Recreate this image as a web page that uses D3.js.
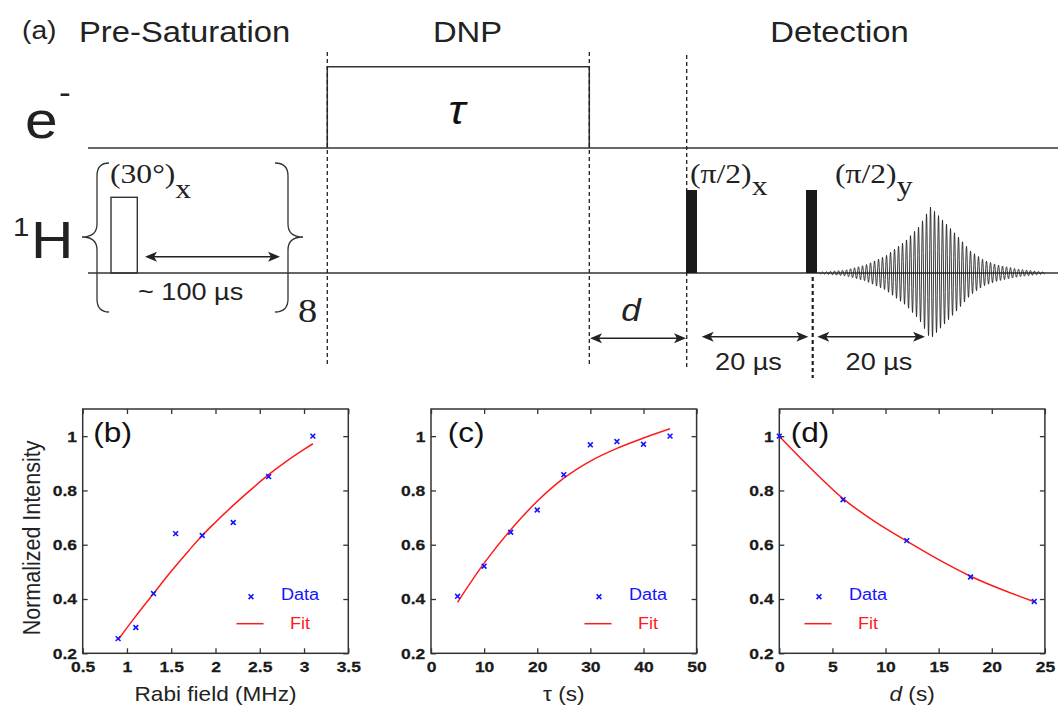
<!DOCTYPE html>
<html>
<head>
<meta charset="utf-8">
<script src="https://cdn.jsdelivr.net/npm/d3@7"></script>
<style>
  html, body { margin: 0; padding: 0; background: #fff; }
  svg { display: block; }
  .ticklab { font-family: 'Liberation Sans', Arial, Helvetica, sans-serif; font-weight: 700; }
</style>
</head>
<body>
<svg id="chart" width="1061" height="710"></svg>
<script>
// ---------------- DATA ----------------
// (b) Rabi field dependence
const rabiField = [0.9, 1.1, 1.3, 1.55, 1.85, 2.2, 2.6, 3.1];
const rabiIntensity = [0.254, 0.295, 0.42, 0.641, 0.634, 0.682, 0.851, 1.0];
const rabiFitX = [0.9, 1.1, 1.3, 1.5, 1.7, 1.85, 2.0, 2.2, 2.4, 2.6, 2.8, 3.0, 3.1];
const rabiFitY = [0.25, 0.337, 0.42, 0.502, 0.579, 0.634, 0.683, 0.745, 0.803, 0.858, 0.907, 0.951, 0.972];
const rabiTicksX = [0.5, 1, 1.5, 2, 2.5, 3, 3.5];

// (c) DNP time dependence
const tauValues = [5, 10, 15, 20, 25, 30, 35, 40, 45];
const tauIntensity = [0.41, 0.521, 0.646, 0.728, 0.858, 0.968, 0.98, 0.97, 1.0];
const tauFitX = [5, 10, 15, 20, 25, 30, 35, 40, 45];
const tauFitY = [0.388, 0.532, 0.655, 0.76, 0.845, 0.908, 0.955, 0.993, 1.027];
const tauTicksX = [0, 10, 20, 30, 40, 50];

// (d) delay dependence
const delayValues = [0, 6, 12, 18, 24];
const delayIntensity = [1.0, 0.766, 0.615, 0.481, 0.391];
const delayFitX = [0, 3, 6, 9, 12, 15, 18, 21, 24];
const delayFitY = [1.0, 0.88, 0.77, 0.685, 0.613, 0.545, 0.484, 0.434, 0.39];
const delayTicksX = [0, 5, 10, 15, 20, 25];

const intensityTicks = [0.2, 0.4, 0.6, 0.8, 1];

// echo envelope (schematic): relative time and amplitude
const echoT = [0, 28, 48, 68, 88, 102, 113, 126, 140, 153, 166, 180, 200, 226];
const echoAmp = [0.5, 3, 8, 17, 32, 47, 66, 52, 37, 22, 13, 8, 4, 1];

// ---------------- SETUP ----------------
const SX = 1.13; // horizontal glyph stretch of the original figure
const SANS = "'Liberation Sans', Arial, Helvetica, sans-serif";
const SERIF = "'Liberation Serif', 'Times New Roman', serif";
const INK = "#222";
const svg = d3.select("#chart");

function txt(parent, x, y, str, o = {}) {
  const t = parent.append("text")
    .attr("transform", `translate(${x},${y}) scale(${o.sx || SX},1)`)
    .attr("font-family", o.family || SANS)
    .attr("font-size", o.size || 16)
    .style("font-weight", o.weight || "normal")
    .style("font-style", o.style || "normal")
    .attr("text-anchor", o.anchor || "start")
    .attr("fill", o.fill || INK);
  if (str !== null) t.text(str);
  return t;
}

// ---------------- (a) PULSE SEQUENCE ----------------
const seq = svg.append("g");

txt(seq, 22, 39, "(a)", {size: 25});
txt(seq, 79, 42, "Pre-Saturation", {size: 29});
txt(seq, 467.5, 42, "DNP", {size: 29, anchor: "middle"});
txt(seq, 839.5, 42, "Detection", {size: 29, anchor: "middle"});

// channel labels
txt(seq, 25, 138, "e", {size: 52});
txt(seq, 59, 103, "-", {size: 31});
txt(seq, 13, 236, "1", {size: 26});
txt(seq, 31, 258, "H", {size: 52});

// baselines
const yE = 148, yH = 273;
seq.append("line").attr("x1", 88).attr("x2", 1058).attr("y1", yE).attr("y2", yE)
  .attr("stroke", "#333").attr("stroke-width", 1.5);
seq.append("line").attr("x1", 88).attr("x2", 1058).attr("y1", yH).attr("y2", yH)
  .attr("stroke", "#333").attr("stroke-width", 1.5);

// DNP microwave block
seq.append("path").attr("d", `M327.3,${yE} V66.7 H589.3 V${yE}`)
  .attr("fill", "none").attr("stroke", "#333").attr("stroke-width", 1.5);
txt(seq, 457, 124, "τ", {size: 40, style: "italic", weight: "normal", anchor: "middle", fill: "#111"});

// dashed separators
[[327.3, 52, 367, 1.3], [589.3, 52, 367, 1.3], [686.7, 55, 367, 1.3], [812.7, 277, 378, 2.2]]
  .forEach(([x, y1, y2, w]) => {
    seq.append("line").attr("x1", x).attr("x2", x).attr("y1", y1).attr("y2", y2)
      .attr("stroke", "#222").attr("stroke-width", w).attr("stroke-dasharray", "4,3");
  });

// pulses
seq.append("rect").attr("x", 111).attr("y", 197.3).attr("width", 26.3).attr("height", yH - 197.3)
  .attr("fill", "none").attr("stroke", "#333").attr("stroke-width", 1.4);
seq.append("rect").attr("x", 686).attr("y", 190).attr("width", 11).attr("height", yH - 190).attr("fill", "#1a1a1a");
seq.append("rect").attr("x", 806).attr("y", 190).attr("width", 11).attr("height", yH - 190).attr("fill", "#1a1a1a");

// braces
seq.append("path")
  .attr("d", "M109,163 Q97,163 97,176 L97,224 Q97,237 82,237 Q97,237 97,250 L97,299 Q97,312 109,312")
  .attr("fill", "none").attr("stroke", "#333").attr("stroke-width", 1.3);
seq.append("path")
  .attr("d", "M275,163 Q288,163 288,176 L288,224 Q288,237 303,237 Q288,237 288,250 L288,299 Q288,312 275,312")
  .attr("fill", "none").attr("stroke", "#333").attr("stroke-width", 1.3);

// double arrows
function dblArrow(x1, x2, y) {
  seq.append("line").attr("x1", x1 + 6).attr("x2", x2 - 6).attr("y1", y).attr("y2", y)
    .attr("stroke", "#222").attr("stroke-width", 1.6);
  seq.append("path").attr("d", `M${x1},${y} L${x1 + 12},${y - 5} L${x1 + 9},${y} L${x1 + 12},${y + 5} Z`).attr("fill", "#222");
  seq.append("path").attr("d", `M${x2},${y} L${x2 - 12},${y - 5} L${x2 - 9},${y} L${x2 - 12},${y + 5} Z`).attr("fill", "#222");
}
dblArrow(145, 280, 256.7);
dblArrow(590, 686, 338.3);
dblArrow(701.7, 808.3, 336.7);
dblArrow(817.3, 925, 336.7);

// pulse labels (serif)
let t = txt(seq, 110, 183, null, {size: 28, family: SERIF});
t.append("tspan").text("(30°)");
t.append("tspan").attr("dy", 15).text("x");
t = txt(seq, 690, 183, null, {size: 28, family: SERIF});
t.append("tspan").text("(π/2)");
t.append("tspan").attr("dy", 12).text("x");
t = txt(seq, 835, 183, null, {size: 28, family: SERIF});
t.append("tspan").text("(π/2)");
t.append("tspan").attr("dy", 12).text("y");
txt(seq, 298, 322, "8", {size: 34, family: SERIF});

txt(seq, 138, 300, "~ 100 µs", {size: 24});
txt(seq, 631, 321, "d", {size: 31, style: "italic", anchor: "middle"});
txt(seq, 748.5, 370, "20 µs", {size: 24, anchor: "middle"});
txt(seq, 879, 370, "20 µs", {size: 24, anchor: "middle"});

// echo
const echoX0 = 817.5;
const env = d3.scaleLinear().domain(echoT).range(echoAmp).clamp(true);
const echoPts = d3.range(0, 227.01, 0.25).map(u => [echoX0 + u, yH - env(u) * Math.sin(2 * Math.PI * u / 4.0)]);
seq.append("path").attr("d", d3.line()(echoPts))
  .attr("fill", "none").attr("stroke", "#222").attr("stroke-width", 0.9);

// ---------------- (b)(c)(d) PLOTS ----------------
const plotTop = 409, plotBottom = 653.3, plotW = 265.6;
const panels = [
  {left: 82.7, xDomain: [0.5, 3.5], ticks: rabiTicksX, px: rabiField, py: rabiIntensity,
   fx: rabiFitX, fy: rabiFitY, label: "(b)", labelDx: 10.6, legendDx: 168.3, xTitle: "Rabi field (MHz)"},
  {left: 431, xDomain: [0, 50], ticks: tauTicksX, px: tauValues, py: tauIntensity,
   fx: tauFitX, fy: tauFitY, label: "(c)", labelDx: 16.7, legendDx: 168, xTitle: "τ (s)"},
  {left: 779.3, xDomain: [0, 25], ticks: delayTicksX, px: delayValues, py: delayIntensity,
   fx: delayFitX, fy: delayFitY, label: "(d)", labelDx: 11.4, legendDx: 39.7, xTitle: "d"}
];

const y = d3.scaleLinear().domain([0.2, 1.1]).range([plotBottom, plotTop]);
const fmt = d3.format("~g");
const BLUE = "#1515ff", RED = "#ff1a1a";

function cross(g, cx, cy) {
  const s = 2.4;
  g.append("path").attr("d", `M${cx - s},${cy - s} L${cx + s},${cy + s} M${cx - s},${cy + s} L${cx + s},${cy - s}`)
    .attr("stroke", BLUE).attr("stroke-width", 1.6).attr("fill", "none");
}

panels.forEach((p, i) => {
  const g = svg.append("g");
  const x = d3.scaleLinear().domain(p.xDomain).range([p.left, p.left + plotW]);

  const styleAxis = (sel) => {
    sel.attr("font-family", null).attr("font-size", 15.5);
    sel.select(".domain").remove();
    sel.selectAll(".tick line").attr("stroke", "#333").attr("stroke-width", 1.3);
    sel.selectAll(".tick text")
      .attr("class", "ticklab")
      .attr("font-weight", 700)
      .attr("fill", "#1a1a1a")
      .attr("stroke", "#1a1a1a").attr("stroke-width", 0.25)
      .attr("transform", `scale(${SX},1)`);
  };

  g.append("g").attr("transform", `translate(0,${plotBottom})`)
    .call(d3.axisBottom(x).tickValues(p.ticks).tickFormat(fmt).tickSize(-5).tickPadding(7.5))
    .call(styleAxis);
  g.append("g").attr("transform", `translate(0,${plotTop})`)
    .call(d3.axisTop(x).tickValues(p.ticks).tickFormat("").tickSize(-5))
    .call(styleAxis);
  g.append("g").attr("transform", `translate(${p.left},0)`)
    .call(d3.axisLeft(y).tickValues(intensityTicks).tickFormat(fmt).tickSize(-5).tickPadding(5))
    .call(styleAxis);
  g.append("g").attr("transform", `translate(${p.left + plotW},0)`)
    .call(d3.axisRight(y).tickValues(intensityTicks).tickFormat("").tickSize(-5))
    .call(styleAxis);

  // frame
  g.append("rect").attr("x", p.left).attr("y", plotTop).attr("width", plotW).attr("height", plotBottom - plotTop)
    .attr("fill", "none").attr("stroke", "#333").attr("stroke-width", 1.5);

  // fit
  const fitPts = p.fx.map((v, k) => [x(v), y(p.fy[k])]);
  g.append("path").attr("d", d3.line().curve(d3.curveMonotoneX)(fitPts))
    .attr("fill", "none").attr("stroke", RED).attr("stroke-width", 1.5);

  // data
  p.px.forEach((v, k) => cross(g, x(v), y(p.py[k])));

  // legend
  const mx = p.left + p.legendDx;
  cross(g, mx, 596.7);
  txt(g, mx + 30, 599.5, "Data", {size: 16, fill: BLUE});
  g.append("line").attr("x1", mx - 14.5).attr("x2", mx + 12.5).attr("y1", 623.7).attr("y2", 623.7)
    .attr("stroke", RED).attr("stroke-width", 1.5);
  txt(g, mx + 39, 628.5, "Fit", {size: 16, fill: RED});

  // panel label
  txt(g, p.left + p.labelDx, 442, p.label, {size: 28, fill: "#111"});

  // x title
  const cx = p.left + plotW / 2;
  if (p.xTitle === "d") {
    const tt = txt(g, cx, 701, null, {size: 20, anchor: "middle"});
    tt.append("tspan").style("font-style", "italic").text("d");
    tt.append("tspan").text(" (s)");
  } else {
    txt(g, cx, 701, p.xTitle, {size: 20, anchor: "middle"});
  }
});

// y title
svg.append("text")
  .attr("transform", `translate(40,538) rotate(-90) scale(1,${SX})`)
  .attr("font-family", SANS).attr("font-size", 21.5).attr("text-anchor", "middle").attr("fill", INK)
  .text("Normalized Intensity");
</script>
</body>
</html>
